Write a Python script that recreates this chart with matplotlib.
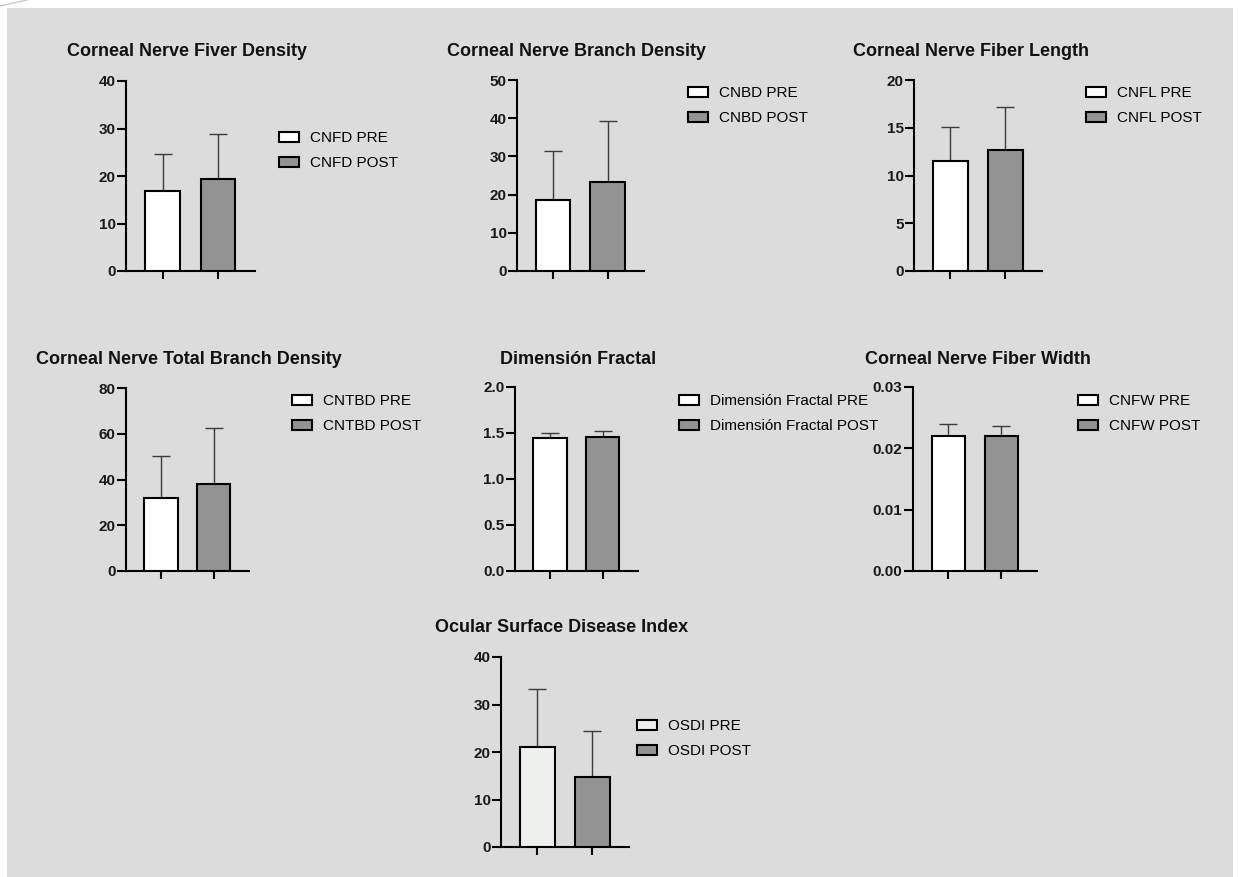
import numpy as np
import matplotlib.pyplot as plt
from matplotlib.patches import Rectangle
from matplotlib.lines import Line2D

plt.rcParams['font.family'] = ['Liberation Sans', 'DejaVu Sans']

W, H = 1238, 877

# data (mean and upper SD)
titles = ['Corneal Nerve Fiver Density', 'Corneal Nerve Branch Density',
          'Corneal Nerve Fiber Length', 'Corneal Nerve Total Branch Density',
          'Dimensión Fractal', 'Corneal Nerve Fiber Width',
          'Ocular Surface Disease Index']
pre_labels = ['CNFD PRE', 'CNBD PRE', 'CNFL PRE', 'CNTBD PRE',
              'Dimensión Fractal PRE', 'CNFW PRE', 'OSDI PRE']
post_labels = ['CNFD POST', 'CNBD POST', 'CNFL POST', 'CNTBD POST',
               'Dimensión Fractal POST', 'CNFW POST', 'OSDI POST']
pre_mean = [16.8, 18.5, 11.5, 31.8, 1.444, 0.0220, 21.0]
pre_sd = [7.8, 13.0, 3.6, 18.3, 0.056, 0.0020, 12.3]
post_mean = [19.4, 23.2, 12.7, 37.9, 1.458, 0.0220, 14.7]
post_sd = [9.5, 16.1, 4.5, 24.5, 0.069, 0.0017, 9.8]
y_max = [40, 50, 20, 80, 2.0, 0.03, 40]
y_step = [10, 10, 5, 20, 0.5, 0.01, 10]
y_fmt = ['%d', '%d', '%d', '%d', '%.1f', '%.2f', '%d']

# layout in pixels: axis left, right, top, bottom
boxes = [(126, 255, 81, 271), (517, 644, 80, 271), (914, 1042, 80, 271),
         (126, 249, 388, 571), (515, 638, 387, 571), (913, 1037, 387, 571),
         (501, 629, 657, 847)]
title_pos = [(67, 52), (447, 52), (853, 52), (36, 360), (500, 360), (865, 360), (435, 627)]
leg_pos = [(279, 137), (688, 92), (1086, 92), (292, 400), (679, 400), (1078, 400), (637, 725)]

fig = plt.figure(figsize=(W / 100, H / 100), dpi=100)
fig.patches.append(Rectangle((7 / W, 0), (1233 - 7) / W, (877 - 8) / H,
                             transform=fig.transFigure, facecolor='#dcdcdc',
                             edgecolor='none', zorder=-5))
fig.add_artist(Line2D([0, 27 / W], [1 - 6 / H, 1], color='#c8c8c8', lw=1, zorder=-5))

for i in range(7):
    l, r, t, b = boxes[i]
    ax = fig.add_axes([l / W, 1 - b / H, (r - l) / W, (b - t) / H])
    ax.set_facecolor('none')
    pre_col = '#eef0ee' if i == 6 else 'white'
    b1 = ax.bar([0], [pre_mean[i]], 0.63, color=pre_col, edgecolor='black',
                lw=1.5, zorder=3, label=pre_labels[i])
    b2 = ax.bar([1], [post_mean[i]], 0.63, color='#939393', edgecolor='black',
                lw=1.5, zorder=3, label=post_labels[i])
    ax.errorbar([0, 1], [pre_mean[i], post_mean[i]],
                yerr=[[0, 0], [pre_sd[i], post_sd[i]]], fmt='none',
                ecolor='#3c3c3c', elinewidth=1, capsize=6.8, capthick=1, zorder=2)
    ax.set_xlim(-0.665, 1.67)
    ax.set_ylim(0, y_max[i])
    ticks = np.arange(0, y_max[i] + y_step[i] / 2, y_step[i])
    ax.set_yticks(ticks, labels=[y_fmt[i] % v for v in ticks], fontweight='bold')
    ax.set_xticks([0, 1], labels=[])
    for s in ['top', 'right']:
        ax.spines[s].set_visible(False)
    for s in ['left', 'bottom']:
        ax.spines[s].set_linewidth(1.5)
    ax.tick_params(axis='y', length=6.5, width=1.5, pad=1, labelsize=11, labelcolor='#1a1a1a')
    ax.tick_params(axis='x', length=6, width=1.5)

    tx, ty = title_pos[i]
    fig.text(tx / W, 1 - ty / H, titles[i], fontsize=13, fontweight='bold',
             ha='left', va='center', color='#111111')

    lx, ly = leg_pos[i]
    ax.legend(handles=[b1, b2], loc='upper left',
              bbox_to_anchor=(lx / W, 1 - (ly - 6) / H), bbox_transform=fig.transFigure,
              frameon=False, borderpad=0, borderaxespad=0, handlelength=1.3,
              handleheight=0.65, handletextpad=0.75, labelspacing=0.75, fontsize=11)

plt.savefig('out.png', dpi=100)
